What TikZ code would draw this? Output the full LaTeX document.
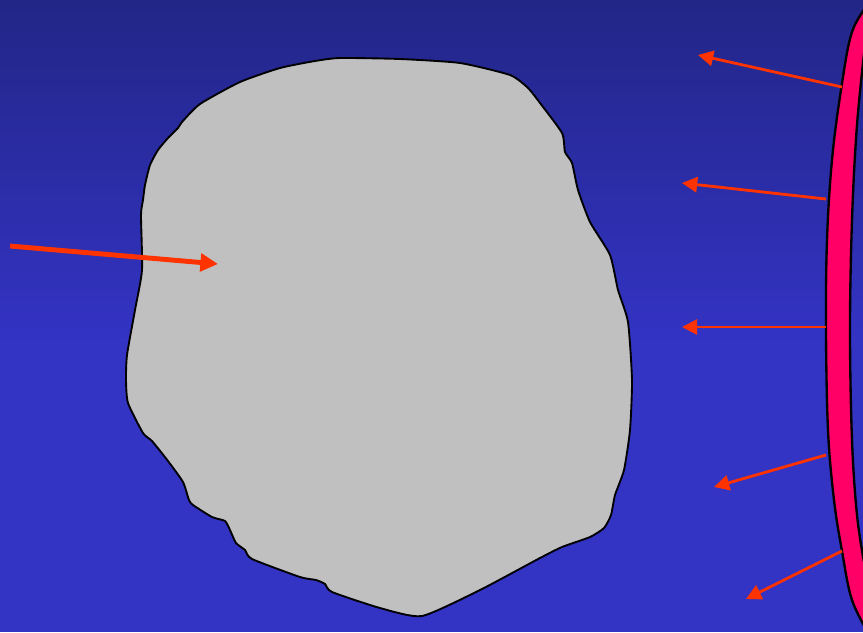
\documentclass[tikz,border=0pt]{standalone}
\usepackage{xcolor}
\usepackage{tikz}
\usetikzlibrary{arrows.meta}
\definecolor{bgtop}{HTML}{222686}
\definecolor{bgbot}{HTML}{3333C4}
\definecolor{rayred}{HTML}{FF3300}
\definecolor{rockgray}{HTML}{C0C0C0}
\definecolor{shellpink}{HTML}{FF0066}

\begin{document}
\begin{tikzpicture}[x=0.03cm, y=-0.03cm, >={Triangle[length=13pt, width=13pt]},
  ray/.style={->, rayred, line width=2.4pt},
  inray/.style={->, rayred, line width=4.2pt, >={Triangle[length=15pt, width=15pt]}}]
  \useasboundingbox (0,0) rectangle (863,632);
  \clip (0,0) rectangle (863,632);
  % background
  \fill[bgbot] (0,0) rectangle (863,632);
  \shade[top color=bgtop, bottom color=bgbot] (0,0) rectangle (863,340);
  % the rock
  \filldraw[fill=rockgray, draw=black, line width=1.6pt, line join=round]
    plot[smooth cycle, tension=0.35] coordinates {
      (340,58) (400,59) (460,63) (510,75) (528,88) (540,103) (562,133)
      (565,152) (572,163) (578,190) (590,222) (610,255) (618,290) (628,322)
      (632,380) (630,430) (624,470) (615,495) (611,515) (604,528) (590,537)
      (562,547) (540,558) (480,590) (422,616) (380,608) (332,592) (325,584)
      (316,580) (300,577) (252,559) (245,550) (236,543) (230,530) (225,521)
      (212,517) (193,505) (189,500) (183,482) (168,461) (152,441) (143,433)
      (128,403) (126,380) (127,355) (135,310) (142,270) (141,215) (143,200)
      (145,185) (150,165) (158,150) (168,138) (178,128) (182,122) (200,104)
      (240,82) (280,68) (315,61)};
  % the shell
  \fill[shellpink]
    plot[smooth, tension=0.6] coordinates {(870,2) (852,32) (841,90) (832,160)
      (827,240) (826,330) (828,430) (834,500) (842,551) (852,600) (870,636)}
    -- (870,560)
    -- plot[smooth, tension=0.6] coordinates {(864,562) (857,515) (852,440)
      (850,330) (852,220) (857,125) (865,45)}
    -- cycle;
  \draw[line width=2pt] plot[smooth, tension=0.6] coordinates {(870,2) (852,32)
    (841,90) (832,160) (827,240) (826,330) (828,430) (834,500) (842,551)
    (852,600) (870,636)};
  \draw[line width=2pt] plot[smooth, tension=0.6] coordinates {(864,562)
    (857,515) (852,440) (850,330) (852,220) (857,125) (865,45)};
  % rays
  \coordinate (src) at (10,246);
  \coordinate (hit) at (218,264);
  \coordinate (r1s) at (842,87);  \coordinate (r1e) at (698,55);
  \coordinate (r2s) at (826,199); \coordinate (r2e) at (682,183);
  \coordinate (r3s) at (826,327); \coordinate (r3e) at (682,327);
  \coordinate (r4s) at (826,455); \coordinate (r4e) at (714,487);
  \coordinate (r5s) at (842,551); \coordinate (r5e) at (746,599);
  \draw[inray] (src) -- (hit);
  \foreach \i in {1,...,5}
    \draw[ray] (r\i s) -- (r\i e);
\end{tikzpicture}
\end{document}
